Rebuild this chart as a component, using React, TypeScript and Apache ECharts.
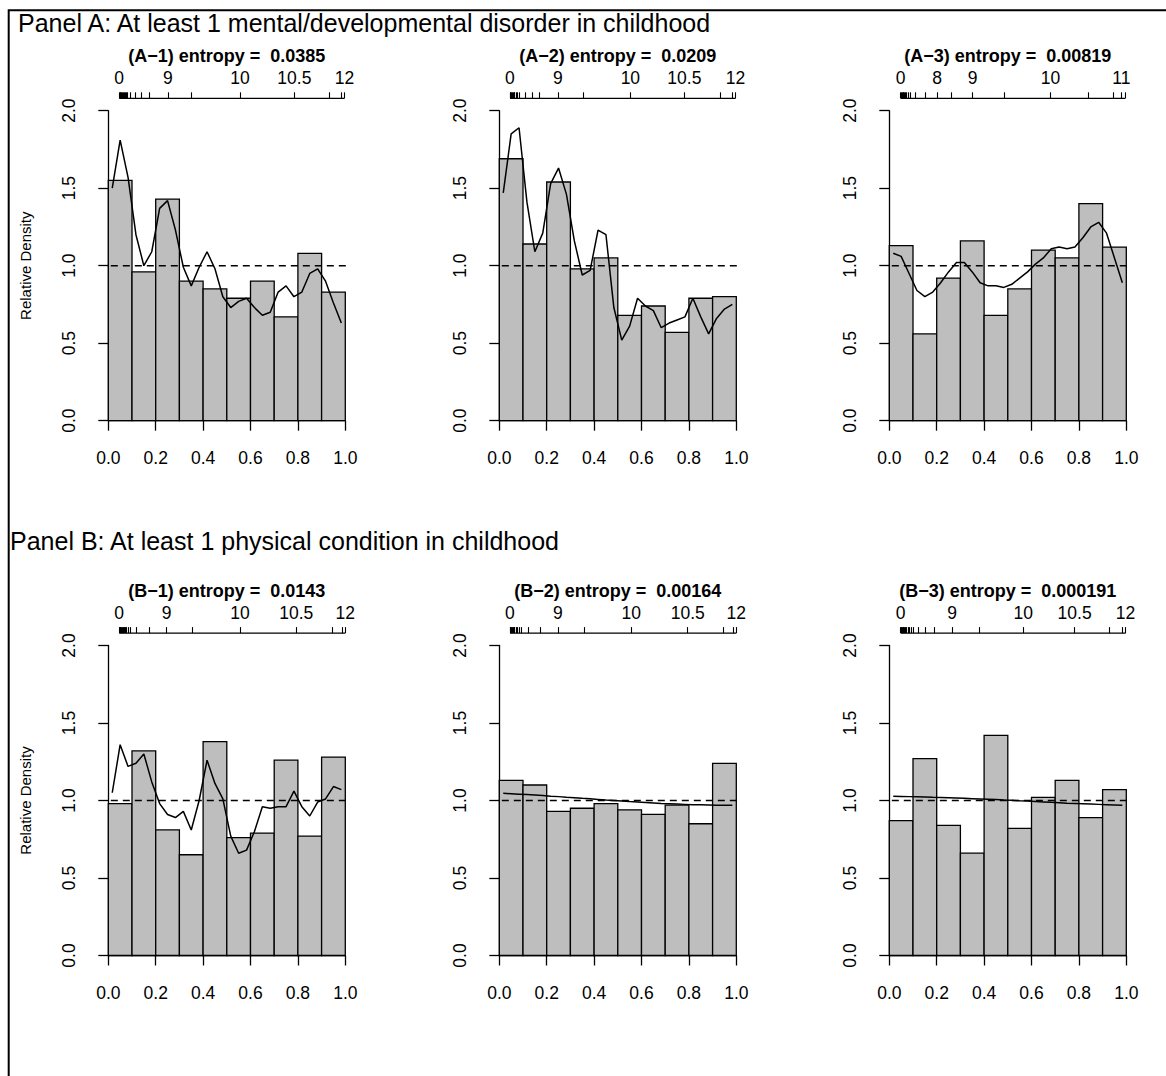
import React, { useEffect, useRef } from "react";
import * as echarts from "echarts";

const FONT = '"Liberation Sans", Arial, Helvetica, sans-serif';

const PANEL_IDS = ["A\u22121", "A\u22122", "A\u22123", "B\u22121", "B\u22122", "B\u22123"];
const ENTROPY = ["0.0385", "0.0209", "0.00819", "0.0143", "0.00164", "0.000191"];
const PANEL_A_TITLE = "Panel A: At least 1 mental/developmental disorder in childhood";
const PANEL_B_TITLE = "Panel B: At least 1 physical condition in childhood";
const Y_LABEL = "Relative Density";

const BOTTOM_TICKS = [0, 0.2, 0.4, 0.6, 0.8, 1.0];
const LEFT_TICKS = [0, 0.5, 1.0, 1.5, 2.0];

// histogram bar heights (10 bins of width 0.1)
const BARS_A1 = [1.55, 0.96, 1.43, 0.9, 0.85, 0.79, 0.9, 0.67, 1.08, 0.83];
const BARS_A2 = [1.69, 1.14, 1.54, 0.98, 1.05, 0.68, 0.74, 0.57, 0.79, 0.8];
const BARS_A3 = [1.13, 0.56, 0.92, 1.16, 0.68, 0.85, 1.1, 1.05, 1.4, 1.12];
const BARS_B1 = [0.98, 1.32, 0.81, 0.65, 1.38, 0.76, 0.79, 1.26, 0.77, 1.28];
const BARS_B2 = [1.13, 1.1, 0.93, 0.95, 0.98, 0.94, 0.91, 0.97, 0.85, 1.24];
const BARS_B3 = [0.87, 1.27, 0.84, 0.66, 1.42, 0.82, 1.02, 1.13, 0.89, 1.07];

// density curves (30 points, at bin midpoints)
const LINE_A1 = [1.5, 1.81, 1.57, 1.2, 1.0, 1.09, 1.37, 1.42, 1.23, 0.99, 0.87, 0.99, 1.09, 0.98, 0.8, 0.73, 0.77, 0.79, 0.73, 0.68, 0.7, 0.83, 0.87, 0.8, 0.83, 0.95, 0.98, 0.9, 0.76, 0.63];
const LINE_A2 = [1.47, 1.85, 1.89, 1.41, 1.09, 1.21, 1.53, 1.63, 1.46, 1.16, 0.94, 0.97, 1.23, 1.2, 0.73, 0.52, 0.61, 0.79, 0.74, 0.71, 0.6, 0.63, 0.65, 0.67, 0.79, 0.67, 0.56, 0.66, 0.72, 0.75];
const LINE_A3 = [1.08, 1.06, 0.95, 0.84, 0.8, 0.83, 0.89, 0.96, 1.02, 1.02, 0.96, 0.89, 0.87, 0.87, 0.86, 0.88, 0.92, 0.96, 1.01, 1.05, 1.11, 1.12, 1.11, 1.12, 1.18, 1.25, 1.28, 1.21, 1.05, 0.89];
const LINE_B1 = [1.05, 1.36, 1.22, 1.24, 1.3, 1.12, 0.98, 0.91, 0.89, 0.93, 0.81, 1.0, 1.26, 1.11, 1.01, 0.77, 0.66, 0.68, 0.8, 0.96, 0.95, 0.96, 0.96, 1.06, 0.96, 0.9, 0.99, 1.01, 1.09, 1.07];
const LINE_B2 = [1.046, 1.044, 1.041, 1.038, 1.035, 1.032, 1.028, 1.025, 1.021, 1.018, 1.014, 1.011, 1.007, 1.003, 1.0, 0.997, 0.993, 0.99, 0.987, 0.984, 0.981, 0.979, 0.977, 0.975, 0.973, 0.972, 0.971, 0.97, 0.969, 0.969];
const LINE_B3 = [1.027, 1.026, 1.025, 1.024, 1.023, 1.021, 1.02, 1.018, 1.016, 1.014, 1.012, 1.01, 1.008, 1.006, 1.003, 1.001, 0.998, 0.996, 0.993, 0.991, 0.988, 0.986, 0.983, 0.981, 0.979, 0.977, 0.975, 0.973, 0.971, 0.969];

// top (reference quantile) axes: tick positions, label positions, label texts
const TOP_TICKS_A1 = [0.046, 0.049, 0.052, 0.055, 0.058, 0.062, 0.066, 0.07, 0.075, 0.08, 0.094, 0.115, 0.141, 0.173, 0.251, 0.352, 0.556, 0.785, 0.934, 0.982, 0.997];
const TOP_TICKS_A2 = [0.045, 0.048, 0.051, 0.054, 0.057, 0.061, 0.065, 0.07, 0.075, 0.085, 0.111, 0.137, 0.169, 0.247, 0.353, 0.553, 0.781, 0.934, 0.983, 0.997];
const TOP_TICKS_A3 = [0.048, 0.051, 0.054, 0.057, 0.06, 0.064, 0.068, 0.073, 0.08, 0.087, 0.108, 0.15, 0.202, 0.263, 0.351, 0.485, 0.68, 0.838, 0.944, 0.979, 0.996];
const TOP_TICKS_B1 = [0.046, 0.049, 0.052, 0.055, 0.058, 0.062, 0.066, 0.071, 0.077, 0.084, 0.092, 0.12, 0.173, 0.246, 0.356, 0.556, 0.793, 0.944, 0.986, 1.0];
const TOP_TICKS_B2 = [0.045, 0.048, 0.051, 0.054, 0.057, 0.061, 0.065, 0.07, 0.076, 0.085, 0.094, 0.123, 0.172, 0.247, 0.358, 0.557, 0.795, 0.944, 0.986, 1.0];
const TOP_TICKS_B3 = [0.048, 0.051, 0.054, 0.057, 0.06, 0.064, 0.068, 0.073, 0.079, 0.086, 0.093, 0.101, 0.122, 0.15, 0.188, 0.265, 0.378, 0.565, 0.782, 0.93, 0.982, 0.997];

const TOP_LABEL_POS_A1 = [0.046, 0.251, 0.556, 0.785, 0.997];
const TOP_LABEL_POS_A2 = [0.045, 0.247, 0.553, 0.781, 0.997];
const TOP_LABEL_POS_A3 = [0.048, 0.202, 0.351, 0.68, 0.979];
const TOP_LABEL_POS_B1 = [0.046, 0.246, 0.556, 0.793, 1.0];
const TOP_LABEL_POS_B2 = [0.045, 0.247, 0.557, 0.795, 1.0];
const TOP_LABEL_POS_B3 = [0.048, 0.265, 0.565, 0.782, 0.997];

const TOP_LABELS_12 = ["0", "9", "10", "10.5", "12"];
const TOP_LABELS_11 = ["0", "8", "9", "10", "11"];

const PANELS = [
  { bars: BARS_A1, line: LINE_A1, ticks: TOP_TICKS_A1, lpos: TOP_LABEL_POS_A1, labels: TOP_LABELS_12 },
  { bars: BARS_A2, line: LINE_A2, ticks: TOP_TICKS_A2, lpos: TOP_LABEL_POS_A2, labels: TOP_LABELS_12 },
  { bars: BARS_A3, line: LINE_A3, ticks: TOP_TICKS_A3, lpos: TOP_LABEL_POS_A3, labels: TOP_LABELS_11 },
  { bars: BARS_B1, line: LINE_B1, ticks: TOP_TICKS_B1, lpos: TOP_LABEL_POS_B1, labels: TOP_LABELS_12 },
  { bars: BARS_B2, line: LINE_B2, ticks: TOP_TICKS_B2, lpos: TOP_LABEL_POS_B2, labels: TOP_LABELS_12 },
  { bars: BARS_B3, line: LINE_B3, ticks: TOP_TICKS_B3, lpos: TOP_LABEL_POS_B3, labels: TOP_LABELS_12 },
];

// layout
const COL_LEFT = [108.3, 499.3, 889.3];
const ROW_TOP = [110.7, 645.5];
const PW = 237;
const PH = 310;
const XPAD = 0.04;
const YPAD = 0.08;
const BIN_W = 0.1;
const N_LINE = 30;

function buildOption() {
  const grid: any[] = [];
  const xAxis: any[] = [];
  const yAxis: any[] = [];
  const series: any[] = [];
  const graphic: any[] = [];
  const axisLineStyle = { color: "#000", width: 1.3 };
  const labelBase = { color: "#000", fontFamily: FONT, fontSize: 17.5 };

  PANELS.forEach((p, k) => {
    const col = k % 3;
    const row = Math.floor(k / 3);
    const left = COL_LEFT[col];
    const top = ROW_TOP[row];
    grid.push({ left, top, width: PW, height: PH, containLabel: false });
    const xb = xAxis.length;
    xAxis.push({
      type: "value", gridIndex: k, min: 0, max: 1, interval: 0.2, position: "bottom",
      offset: YPAD * (PH / 2),
      axisLine: { show: true, lineStyle: axisLineStyle },
      axisTick: { show: true, length: 10, lineStyle: axisLineStyle },
      axisLabel: { ...labelBase, margin: 16, formatter: (v: number) => v.toFixed(1), customValues: BOTTOM_TICKS },
      splitLine: { show: false },
    });
    xAxis.push({
      type: "value", gridIndex: k, min: 0, max: 1, position: "top",
      offset: YPAD * (PH / 2),
      axisLine: { show: false },
      axisTick: { show: true, length: 6, lineStyle: { color: "#000", width: 1.1 }, customValues: p.ticks },
      axisLabel: {
        ...labelBase, margin: 11, customValues: p.lpos,
        formatter: (v: number) => {
          const i = p.lpos.indexOf(v);
          return i >= 0 ? p.labels[i] : "";
        },
      },
      splitLine: { show: false },
    });
    yAxis.push({
      type: "value", gridIndex: k, min: 0, max: 2, interval: 0.5,
      offset: XPAD * PW,
      axisLine: { show: true, lineStyle: axisLineStyle },
      axisTick: { show: true, length: 10, lineStyle: axisLineStyle },
      axisLabel: { ...labelBase, rotate: 90, margin: 21, formatter: (v: number) => v.toFixed(1), customValues: LEFT_TICKS },
      splitLine: { show: false },
    });

    series.push({
      type: "custom", xAxisIndex: xb, yAxisIndex: k, silent: true,
      data: p.bars.map((h, i) => [i * BIN_W, (i + 1) * BIN_W, h]),
      encode: { x: [0, 1], y: 2 },
      renderItem: (params: any, api: any) => {
        const a = api.coord([api.value(0), api.value(2)]);
        const b = api.coord([api.value(1), 0]);
        return {
          type: "rect",
          shape: { x: a[0], y: a[1], width: b[0] - a[0], height: b[1] - a[1] },
          style: { fill: "#bebebe", stroke: "#000", lineWidth: 1.3 },
        };
      },
    });
    series.push({
      type: "line", xAxisIndex: xb, yAxisIndex: k, silent: true, clip: false,
      showSymbol: false, symbol: "none",
      data: [[-XPAD, 1], [1 + XPAD, 1]],
      lineStyle: { color: "#000", width: 1.6, type: [7, 5] },
    });
    series.push({
      type: "line", xAxisIndex: xb, yAxisIndex: k, silent: true,
      showSymbol: false, symbol: "none",
      data: p.line.map((v, i) => [(i + 0.5) / N_LINE, v]),
      lineStyle: { color: "#000", width: 1.5 },
    });
    // top axis line, spanning first to last tick at the plot region's top edge
    series.push({
      type: "line", xAxisIndex: xb, yAxisIndex: k, silent: true, clip: false,
      showSymbol: false, symbol: "none",
      data: [[p.ticks[0], 2 + YPAD], [p.ticks[p.ticks.length - 1], 2 + YPAD]],
      lineStyle: { color: "#000", width: 1.3 },
    });

    graphic.push({
      type: "text", x: left + PW / 2, y: top - 55,
      style: {
        text: "(" + PANEL_IDS[k] + ") entropy = \u00a0" + ENTROPY[k],
        font: "bold 18px " + FONT, fill: "#000", textAlign: "center", textVerticalAlign: "middle",
      },
    });
    if (col === 0) {
      graphic.push({
        type: "text", x: 25, y: top + PH / 2, rotation: Math.PI / 2,
        style: {
          text: Y_LABEL, font: "15px " + FONT, fill: "#000", textAlign: "center", textVerticalAlign: "middle",
        },
      });
    }
  });

  graphic.push({
    type: "text", x: 18, y: 23,
    style: { text: PANEL_A_TITLE, font: "25px " + FONT, fill: "#000", textAlign: "left", textVerticalAlign: "middle" },
  });
  graphic.push({
    type: "text", x: 10, y: 541,
    style: { text: PANEL_B_TITLE, font: "25px " + FONT, fill: "#000", textAlign: "left", textVerticalAlign: "middle" },
  });
  graphic.push({
    type: "rect", shape: { x: 8.7, y: 10.3, width: 2000, height: 2000 },
    style: { fill: "none", stroke: "#000", lineWidth: 2 },
  });

  return {
    animation: false,
    backgroundColor: "#fff",
    grid, xAxis, yAxis, series, graphic,
  };
}

export default function App() {
  const ref = useRef<HTMLDivElement>(null);
  useEffect(() => {
    if (!ref.current) return;
    const chart = echarts.init(ref.current, null, { renderer: "svg" });
    chart.setOption(buildOption() as any);
    return () => chart.dispose();
  }, []);
  return (
    <div
      ref={ref}
      style={{ position: "fixed", left: 0, top: 0, width: 1166, height: 1076, background: "#fff" }}
    />
  );
}
